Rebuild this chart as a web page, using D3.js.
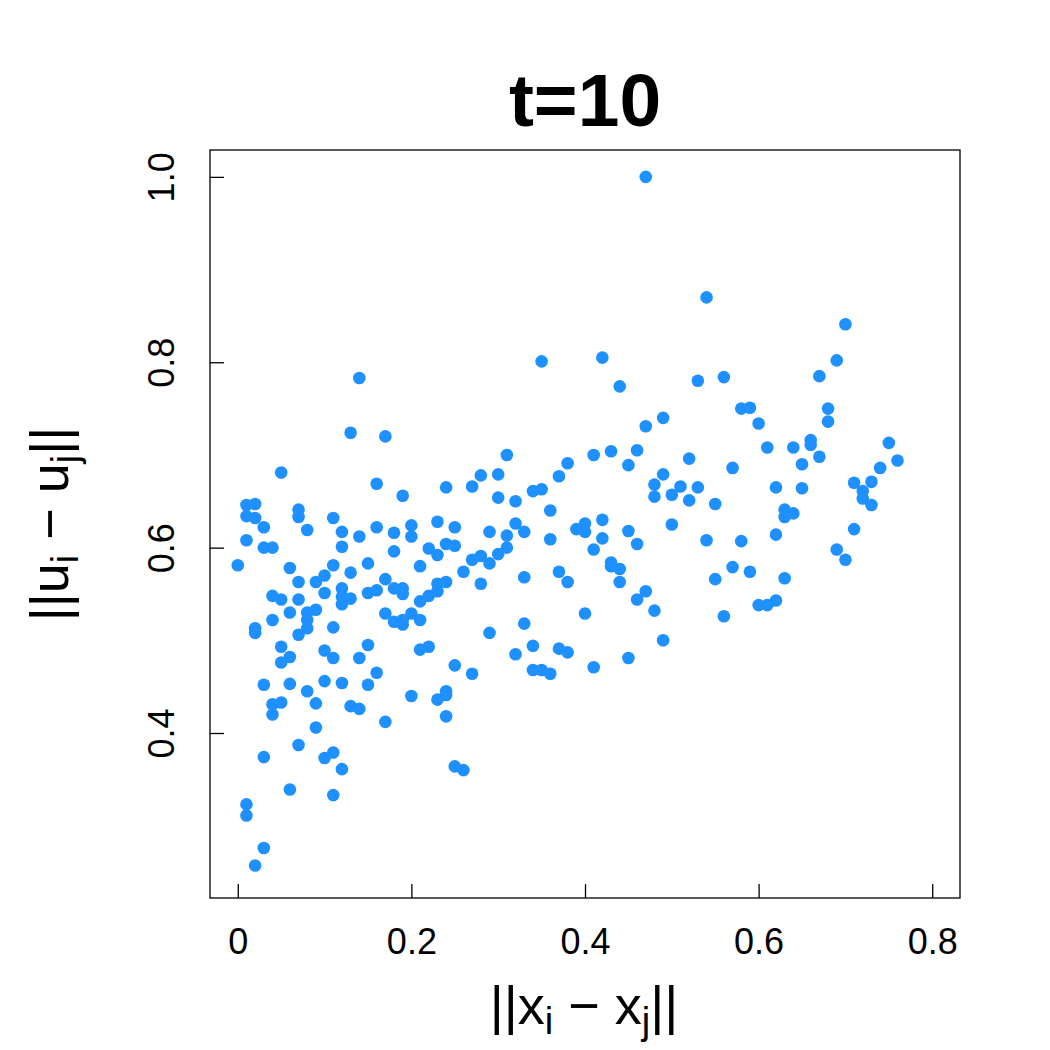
<!DOCTYPE html>
<html>
<head>
<meta charset="utf-8">
<script src="https://cdn.jsdelivr.net/npm/d3@7"></script>
<style>
  body { margin: 0; background: #fff; }
  text { font-family: "Liberation Sans", Arial, sans-serif; }
</style>
</head>
<body>
<svg id="chart" width="1050" height="1050"></svg>
<script>
// ||x_i - x_j|| for each pair
const xDist = [
  0,
  0.01,0.01,0.01,0.01,0.01,
  0.02,0.02,0.02,0.02,0.02,
  0.03,0.03,0.03,0.03,0.03,
  0.04,0.04,0.04,0.04,0.04,
  0.05,0.05,0.05,0.05,0.05,
  0.06,0.06,0.06,0.06,0.06,
  0.07,0.07,0.07,0.07,0.07,0.07,
  0.08,0.08,0.08,0.08,0.08,
  0.09,0.09,0.09,0.09,
  0.10,0.10,0.10,0.10,0.10,
  0.11,0.11,0.11,0.11,0.11,0.11,
  0.12,0.12,0.12,0.12,0.12,0.12,0.12,
  0.13,0.13,0.13,0.13,
  0.14,0.14,0.14,0.14,
  0.15,0.15,0.15,0.15,
  0.16,0.16,0.16,0.16,
  0.17,0.17,0.17,0.17,
  0.18,0.18,0.18,0.18,
  0.19,0.19,0.19,0.19,0.19,
  0.20,0.20,0.20,0.20,
  0.21,0.21,0.21,0.21,
  0.22,0.22,0.22,
  0.23,0.23,0.23,0.23,0.23,
  0.24,0.24,0.24,0.24,0.24,0.24,
  0.25,0.25,0.25,0.25,
  0.26,0.26,
  0.27,0.27,0.27,
  0.28,0.28,0.28,
  0.29,0.29,0.29,
  0.30,0.30,0.30,
  0.31,0.31,0.31,
  0.32,0.32,0.32,
  0.33,0.33,0.33,
  0.34,0.34,0.34,
  0.35,0.35,0.35,
  0.36,0.36,0.36,
  0.37,0.37,0.37,
  0.38,0.38,0.38,
  0.39,
  0.40,0.40,0.40,
  0.41,0.41,0.41,
  0.42,0.42,0.42,
  0.43,0.43,0.43,
  0.44,0.44,0.44,
  0.45,0.45,0.45,
  0.46,0.46,0.46,
  0.47,0.47,0.47,
  0.48,0.48,0.48,
  0.49,0.49,0.49,
  0.50,0.50,
  0.51,
  0.52,0.52,
  0.53,0.53,
  0.54,0.54,
  0.55,0.55,
  0.56,0.56,
  0.57,0.57,
  0.58,0.58,
  0.59,0.59,
  0.60,0.60,
  0.61,0.61,
  0.62,0.62,0.62,
  0.63,0.63,0.63,
  0.64,0.64,
  0.65,0.65,
  0.66,0.66,
  0.67,0.67,
  0.68,0.68,
  0.69,0.69,
  0.70,0.70,
  0.71,0.71,
  0.72,0.72,
  0.73,0.73,
  0.74,
  0.75,
  0.76
];
// ||u_i - u_j|| for the same pairs
const uDist = [
  0.581,
  0.646,0.634,0.608,0.323,0.311,
  0.647,0.632,0.513,0.508,0.257,
  0.622,0.600,0.452,0.374,0.276,
  0.600,0.548,0.522,0.431,0.420,
  0.681,0.544,0.493,0.476,0.433,
  0.578,0.530,0.482,0.453,0.339,
  0.641,0.633,0.563,0.544,0.506,0.387,
  0.619,0.530,0.522,0.513,0.445,
  0.563,0.533,0.432,0.406,
  0.570,0.551,0.489,0.456,0.373,
  0.632,0.581,0.514,0.481,0.379,0.333,
  0.617,0.601,0.556,0.547,0.539,0.454,0.361,
  0.724,0.573,0.545,0.429,
  0.783,0.612,0.481,0.426,
  0.583,0.551,0.495,0.452,
  0.669,0.622,0.554,0.465,
  0.720,0.566,0.529,0.412,
  0.616,0.596,0.556,0.520,
  0.656,0.556,0.550,0.522,0.517,
  0.624,0.612,0.529,0.440,
  0.580,0.542,0.522,0.490,
  0.599,0.548,0.493,
  0.628,0.592,0.561,0.553,0.436,
  0.665,0.604,0.563,0.445,0.441,0.418,
  0.622,0.602,0.473,0.364,
  0.574,0.360,
  0.666,0.587,0.464,
  0.678,0.591,0.561,
  0.617,0.583,0.508,
  0.679,0.654,0.593,
  0.700,0.613,0.600,
  0.650,0.626,0.485,
  0.617,0.568,0.518,
  0.661,0.494,0.468,
  0.801,0.663,0.468,
  0.640,0.609,0.464,
  0.677,0.574,0.491,
  0.691,0.563,0.487,
  0.620,
  0.626,0.617,0.529,
  0.700,0.598,0.471,
  0.805,0.630,0.610,
  0.704,0.584,0.580,
  0.774,0.577,0.563,
  0.689,0.618,0.481,
  0.705,0.604,0.544,
  1.000,0.731,0.553,
  0.668,0.655,0.532,
  0.740,0.679,0.500,
  0.657,0.625,
  0.666,
  0.696,0.651,
  0.780,0.665,
  0.870,0.608,
  0.647,0.566,
  0.784,0.526,
  0.686,0.579,
  0.750,0.607,
  0.751,0.574,
  0.734,0.538,
  0.708,0.538,
  0.665,0.614,0.543,
  0.641,0.633,0.567,
  0.708,0.637,
  0.690,0.664,
  0.716,0.711,
  0.785,0.698,
  0.750,0.736,
  0.802,0.598,
  0.841,0.587,
  0.670,0.620,
  0.661,0.653,
  0.671,0.646,
  0.686,
  0.713,
  0.694
];
const xTicks = [0, 0.2, 0.4, 0.6, 0.8];
const yTicks = [0.4, 0.6, 0.8, 1.0];
const titleText = 't=10';

const points = xDist.map((x, i) => ({x, u: uDist[i]}));

const svg = d3.select('#chart');
const box = {l:210, t:150, r:960, b:898};

// R style extended ranges
const xScale = d3.scaleLinear().domain([-0.032, 0.832]).range([box.l, box.r]);
const yScale = d3.scaleLinear().domain([0.222, 1.029]).range([box.b, box.t]);

// title
svg.append('text')
  .attr('x', 585).attr('y', 126)
  .attr('text-anchor', 'middle')
  .style('font-size', '75px').style('font-weight', 'bold')
  .text(titleText);

// points
svg.append('g').selectAll('circle').data(points).enter().append('circle')
  .attr('cx', d => xScale(d.x))
  .attr('cy', d => yScale(d.u))
  .attr('r', 6.3)
  .attr('fill', '#1E90FF');

// x axis (ticks pointing inward)
const xAxis = svg.append('g')
  .attr('transform', `translate(0,${box.b})`)
  .call(d3.axisTop(xScale).tickValues(xTicks).tickSize(14).tickFormat(d3.format('')).tickSizeOuter(0));
xAxis.select('.domain').remove();
xAxis.selectAll('line').attr('stroke', '#000').attr('stroke-width', 1.3);
xAxis.selectAll('text')
  .attr('y', 56).attr('dy', 0)
  .style('font-size', '36px').attr('fill', '#000');

// y axis (ticks pointing inward, labels rotated)
const yAxis = svg.append('g')
  .attr('transform', `translate(${box.l},0)`)
  .call(d3.axisRight(yScale).tickValues(yTicks).tickSize(14).tickFormat(d3.format('.1f')).tickSizeOuter(0));
yAxis.select('.domain').remove();
yAxis.selectAll('line').attr('stroke', '#000').attr('stroke-width', 1.3);
yAxis.selectAll('text')
  .attr('x', 0).attr('dy', 0)
  .attr('text-anchor', 'middle')
  .attr('transform', 'translate(-36,0) rotate(-90)')
  .style('font-size', '36px').attr('fill', '#000');

// box
svg.append('rect')
  .attr('x', box.l).attr('y', box.t)
  .attr('width', box.r - box.l).attr('height', box.b - box.t)
  .attr('fill', 'none').attr('stroke', '#000').attr('stroke-width', 1.3);

// axis labels with subscripts
function normLabel(g, letter){
  const t = g.append('text').attr('text-anchor', 'middle').style('font-size', '54px');
  t.append('tspan').text('||' + letter);
  t.append('tspan').attr('dy', 10).style('font-size', '38px').text('i');
  t.append('tspan').attr('dy', -10).text(' \u2212 ' + letter);
  t.append('tspan').attr('dy', 10).style('font-size', '38px').text('j');
  t.append('tspan').attr('dy', -10).text('||');
  return t;
}
normLabel(svg.append('g').attr('transform', 'translate(584,1024)'), 'x');
normLabel(svg.append('g').attr('transform', 'translate(68,524) rotate(-90)'), 'u');
</script>
</body>
</html>
